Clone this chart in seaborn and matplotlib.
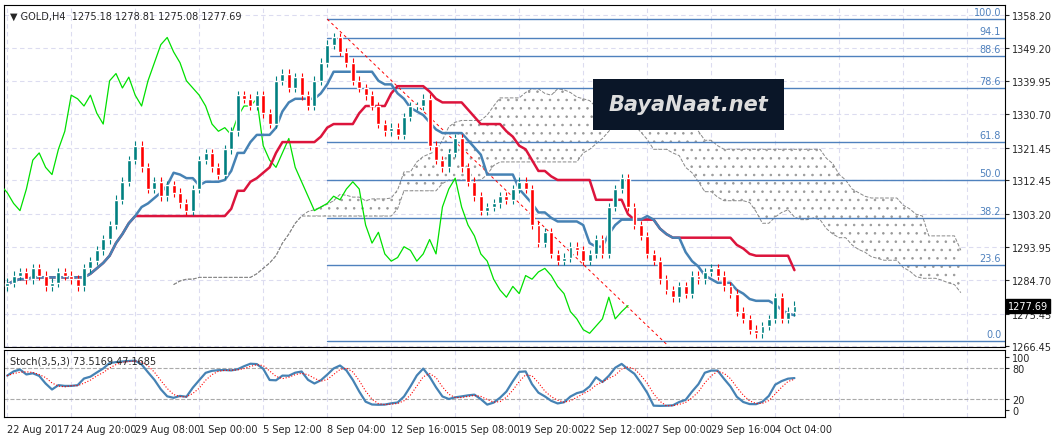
import numpy as np
import pandas as pd
import matplotlib
matplotlib.use("Agg")
import matplotlib.pyplot as plt
import seaborn as sns

# H4 closes (GOLD, 22 Aug - 4 Oct 2017)
closes = [1284, 1286, 1287, 1285, 1288, 1286, 1283, 1284, 1287, 1286, 1285,
          1283, 1288, 1290, 1293, 1296, 1300, 1307, 1312, 1318, 1322,
          1316, 1310, 1312, 1308, 1311, 1309, 1306, 1304,
          1310, 1318, 1320, 1316, 1314, 1321, 1326,
          1336, 1335, 1333, 1336, 1331, 1328,
          1340, 1342, 1338, 1341, 1336, 1333, 1340, 1345,
          1350, 1352, 1348, 1345,
          1340, 1338, 1336, 1333, 1328, 1326, 1327, 1325, 1330, 1333,
          1333, 1335, 1322, 1318, 1316, 1320, 1324, 1316,
          1312, 1308, 1304, 1305, 1306, 1308, 1307, 1310, 1312,
          1310, 1300, 1295, 1298, 1292, 1290, 1291, 1294, 1293, 1290,
          1292, 1296, 1292, 1305, 1310, 1313,
          1305, 1300, 1297, 1292, 1290, 1285, 1282, 1280, 1283, 1281,
          1286, 1285, 1287, 1288, 1286, 1283, 1281,
          1276, 1274, 1271, 1270, 1272, 1274, 1280, 1274, 1276, 1277.69]
date_ticks = ["22 Aug 2017", "24 Aug 20:00", "29 Aug 08:00", "1 Sep 00:00", "5 Sep 12:00",
              "8 Sep 04:00", "12 Sep 16:00", "15 Sep 08:00", "19 Sep 20:00", "22 Sep 12:00",
              "27 Sep 00:00", "29 Sep 16:00", "4 Oct 04:00"]
price_ticks = [1358.20, 1349.20, 1339.95, 1330.70, 1321.45, 1312.45, 1303.20,
               1293.95, 1284.70, 1275.45, 1266.45]
fib_levels = [100.0, 94.1, 88.6, 78.6, 61.8, 50.0, 38.2, 23.6, 0.0]
fib_high, fib_low = 1357.1, 1268.0
fib_start = 50

n = len(closes)
c = pd.Series(closes, dtype=float)
o = c.shift(1).fillna(c.iloc[0] - 1)
hi = np.maximum(o, c) + 1.2
lo = np.minimum(o, c) - 1.2
idx = np.arange(n)

# ichimoku
tenkan = (hi.rolling(9, 1).max() + lo.rolling(9, 1).min()) / 2
kijun = (hi.rolling(26, 1).max() + lo.rolling(26, 1).min()) / 2
span_a = (tenkan + kijun) / 2
span_b = (hi.rolling(52, 1).max() + lo.rolling(52, 1).min()) / 2

# stochastic 3,5,3
ll = lo.rolling(3, 1).min()
hh = hi.rolling(3, 1).max()
k = (100 * (c - ll).rolling(5, 1).sum() / (hh - ll).rolling(5, 1).sum())
d = k.rolling(3, 1).mean()

sns.set_style("white")
plt.rcParams['font.family'] = ['DejaVu Sans']
plt.rcParams['hatch.linewidth'] = 0.6
plt.rcParams['hatch.color'] = '#999999'
fig = plt.figure(figsize=(10.53, 4.39), dpi=100)
W, H = 1053, 439
ax = fig.add_axes([4 / W, 1 - 348 / H, 1001 / W, 342 / H])
ax2 = fig.add_axes([4 / W, 1 - 418 / H, 1001 / W, 67 / H])

xmax = 155.9
for a in (ax, ax2):
    a.set_xlim(-0.5, xmax)
    for v in range(0, 160, 10):
        a.axvline(v, color='#dcdcf0', ls=(0, (4, 3)), lw=0.8, zorder=0)
ax.set_ylim(1266.2, 1361.0)
for p in price_ticks:
    ax.axhline(p, color='#dcdcf0', ls=(0, (4, 3)), lw=0.8, zorder=0)

# cloud
sx = (idx + 26).astype(float)
ax.fill_between(sx, span_a.to_numpy(), span_b.to_numpy(), facecolor='white',
                hatch='..', edgecolor='#999999', linewidth=0, zorder=1)
sns.lineplot(x=sx, y=span_b, ax=ax, color='#888888', lw=0.7, ls='--', zorder=1)
sns.lineplot(x=sx, y=span_a, ax=ax, color='#888888', lw=0.7, ls='--', zorder=1)

# fib
for lv in fib_levels:
    p = fib_low + (fib_high - fib_low) * lv / 100
    ax.plot([fib_start, xmax], [p, p], color='#4f81bd', lw=1, zorder=2)
    ax.text(xmax - 0.6, p + 0.5, f"{lv:.1f}", ha='right', va='bottom', fontsize=7, color='#4f81bd')
ax.plot([fib_start, 103], [fib_high, fib_low - 1], color='red', ls=(0, (3, 3)), lw=0.7, zorder=2)

sns.lineplot(x=idx - 26, y=c, ax=ax, color='#00e000', lw=0.9, zorder=3)
sns.lineplot(x=idx, y=kijun, ax=ax, color='#dc143c', lw=1.8, zorder=4)
sns.lineplot(x=idx, y=tenkan, ax=ax, color='#4682b4', lw=1.8, zorder=5)

up = c >= o
col = np.where(up, '#008080', '#ff0000')
ax.vlines(idx, lo, hi, colors=col, lw=0.8, zorder=6)
ax.bar(idx, np.maximum(np.abs(c - o), 0.4), bottom=np.minimum(o, c), width=0.6, color=col, zorder=7)

# stoch
ax2.set_ylim(-13, 113)
for lvl in (80, 20):
    ax2.axhline(lvl, color='#aaaaaa', ls='--', lw=0.8)
sns.lineplot(x=idx, y=k, ax=ax2, color='#4682b4', lw=1.6)
sns.lineplot(x=idx, y=d, ax=ax2, color='red', lw=0.8, ls=':')
ax2.text(0.5, 103, "Stoch(3,5,3) 73.5169 47.1685", fontsize=7, va='top')

for a in (ax, ax2):
    a.yaxis.tick_right()
    a.tick_params(axis='y', labelsize=7, length=3, pad=2)
    a.set_xlabel('')
    a.set_ylabel('')
    for s in a.spines.values():
        s.set_color('black')
ax.set_yticks(price_ticks)
ax.set_yticklabels([f"{p:.2f}" for p in price_ticks])
ax.set_xticks([])
ax2.set_yticks([100, 80, 20, 0])
ax2.set_yticklabels(['100', '80', '20', '0'])
ax2.set_xticks(range(0, 130, 10))
ax2.set_xticklabels(date_ticks, fontsize=7, ha='left')
ax2.tick_params(axis='x', length=3, pad=2)

ax.text(0.5, 1359.5, "\u25bc GOLD,H4  1275.18 1278.81 1275.08 1277.69", fontsize=7, va='top')
ax.text(xmax + 0.5, closes[-1], f"{closes[-1]:.2f}", fontsize=7, color='white', va='center',
        clip_on=False, bbox=dict(facecolor='black', edgecolor='black', pad=1.5))

# watermark
ax.text(106.5, 1333.5, "BayaNaat.net", fontsize=15, color='#dddddd', style='italic',
        weight='bold', va='center', ha='center',
        bbox=dict(facecolor='#0a1628', edgecolor='none', boxstyle='square,pad=0.75'))

fig.savefig("out.png", dpi=100)
